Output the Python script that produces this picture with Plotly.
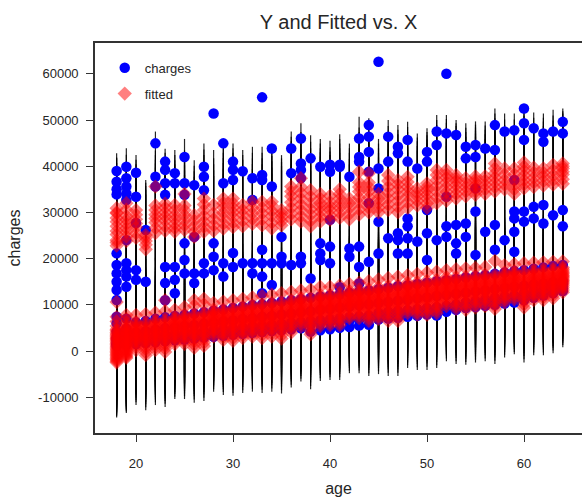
import plotly.graph_objects as go

# ---------------- data ----------------
ages = [18, 19, 20, 21, 22, 23, 24, 25, 26, 27, 28, 29, 30, 31, 32, 33, 34, 35, 36, 37, 38, 39, 40,
        41, 42, 43, 44, 45, 46, 47, 48, 49, 50, 51, 52, 53, 54, 55, 56, 57, 58, 59, 60, 61, 62, 63, 64]

# observed charges: upper / middle clusters (visible blue dots)
charges_upper = [
    [38960, 36650, 35000, 33900, 21140, 18600, 16800, 15000, 13200, 11040, 7400],
    [39900, 37400, 35600, 34100, 32700, 24000, 19000, 17500, 16100, 13900],
    [38600, 33400, 27700, 17500, 15400],
    [26200, 15000],
    [44950, 37700, 35600],
    [41000, 39200, 36300, 33800, 18200, 14700, 11000],
    [38500, 36300, 18200, 15400, 12500],
    [42000, 36300, 33800, 23300, 19700, 16800],
    [35900, 24700, 16800, 14700],
    [39900, 37700, 34800, 19000, 16800],
    [51400, 23300, 20400, 17500],
    [44950, 36300, 19000, 16100],
    [41000, 39200, 37000, 21200, 18200],
    [38900, 19000],
    [37400, 32700, 19000, 16800],
    [54900, 38100, 37000, 21900, 19000, 16100, 12500],
    [43850, 35600, 19000, 14300],
    [24700, 20400, 19000],
    [43850, 38500, 18600],
    [46000, 40600, 39200, 37400, 20400, 19000],
    [41700, 15700],
    [39900, 23300, 21100, 19700],
    [40300, 38800, 28400, 22600, 19000],
    [40300, 39900, 13800],
    [37700, 22200, 20400],
    [46000, 42000, 41000, 22600, 18200, 14600],
    [48900, 46400, 43100, 38800, 32000, 19300],
    [62600, 39500, 35200, 28000, 21100],
    [46400, 41000, 24400],
    [44200, 42800, 25500, 24000, 21100],
    [45700, 41000, 28700, 27000, 24400, 21100],
    [39500, 23700],
    [43100, 41000, 30500, 25500, 19700],
    [47500, 44600, 24000],
    [60000, 47100, 33400, 27000, 24700],
    [46750, 27300, 23300, 21100],
    [44200, 41700, 27600, 24700],
    [44600, 42000, 35200, 30200, 20800],
    [43850, 25800],
    [48900, 43500, 27300, 21900],
    [47500, 24000],
    [47800, 37000, 30200, 28700, 25800, 21500],
    [52500, 49300, 45700, 30200, 28000],
    [48200, 31200, 28700],
    [47100, 45300, 31600, 27600],
    [47500, 29400],
    [49600, 47100, 30500, 27000],
]

# observed charges: low cluster (mostly hidden under the fitted diamonds)
charges_lower = [
    [1100, 1700, 2200, 3000, 4200, 6000, 1400, 2600],
    [1300, 1800, 2500, 3300, 4800, 7000, 1600, 2900],
    [1500, 2000, 2800, 4000, 6200],
    [1700, 2300, 3000, 4300, 6500],
    [1900, 2500, 3300, 4600, 7000],
    [2100, 2700, 3500, 4900, 7300],
    [2300, 2900, 3700, 5100, 7600],
    [2500, 3100, 3900, 5400, 7800],
    [2700, 3300, 4100, 5600, 8100],
    [2900, 3500, 4300, 5900, 8400],
    [3100, 3700, 4500, 6100, 8700],
    [3300, 3900, 4700, 6400, 9000],
    [3500, 4100, 4900, 6600, 9300],
    [3700, 4300, 5100, 6900, 9600],
    [3900, 4500, 5300, 7100, 9900],
    [4100, 4700, 5500, 7400, 10100],
    [4300, 4900, 5700, 7600, 10400],
    [4500, 5100, 5900, 7900, 10700],
    [4700, 5300, 6100, 8100, 11000],
    [4900, 5500, 6300, 8400, 11200],
    [4200, 5700, 6500, 8600, 11500],
    [4500, 5900, 6700, 8900, 11800],
    [4700, 6100, 6900, 9100, 12000],
    [5000, 6300, 7100, 9400, 12300],
    [5200, 6500, 7300, 9600, 12600],
    [5500, 6700, 7500, 9900, 12900],
    [5700, 6900, 7700, 10100, 13100],
    [6800, 7500, 8300, 10400, 13400],
    [7000, 7700, 8500, 10600, 13700],
    [7200, 7900, 8700, 10900, 14000],
    [7400, 8100, 8900, 11100, 14200],
    [7600, 8300, 9100, 11400, 14500],
    [7900, 8500, 9300, 11600, 14800],
    [7700, 8700, 9500, 11900, 15100],
    [8500, 9000, 9800, 12100, 15300],
    [8900, 9400, 10100, 12400, 15600],
    [9300, 9800, 10500, 12600, 15900],
    [9500, 10100, 10900, 12900, 16200],
    [9800, 10400, 11200, 13100, 16400],
    [10000, 10700, 11500, 13400, 16700],
    [10300, 11000, 11800, 13600, 17000],
    [10500, 11200, 12000, 13900, 17300],
    [11000, 11700, 12500, 14100, 17500],
    [11500, 12200, 13000, 14400, 17800],
    [12000, 12700, 13500, 14600, 18100],
    [12500, 13200, 14000, 14900, 18400],
    [13000, 13600, 14400, 15100, 18600],
]

# fitted values: lower band
fitted_lower = [
    [-2500, -1900, -1300, -700, -100, 500, 1100, 1700, 2300, 2800, 3400, 4000, 4700, 5400, 6400, 7400, 10600],
    [-1500, -900, -300, 300, 900, 1400, 2000, 2500, 3100, 3600, 4200, 4800, 5500, 6200, 7000, 7800],
    [200, 1300, 2300, 2900, 3500, 4100, 4800, 5400, 6300, 7800],
    [-900, 400, 1500, 2300, 3000, 3700, 4400, 5200, 6200, 8000],
    [200, 1400, 2400, 3100, 3800, 4400, 5100, 5800, 6700, 8300],
    [-200, 1100, 2200, 3000, 3700, 4400, 5100, 5900, 6800, 8600, 11000],
    [1500, 2600, 3500, 4200, 4800, 5400, 6000, 6600, 7400, 8900],
    [1500, 2700, 3700, 4400, 5000, 5700, 6300, 7000, 7900, 9500],
    [700, 2100, 3200, 4000, 4700, 5400, 6200, 7000, 8000, 9800, 11000],
    [1100, 2500, 3500, 4300, 5100, 5800, 6500, 7300, 8300, 10100, 11300],
    [3100, 4200, 5100, 5700, 6300, 6900, 7500, 8100, 9000, 10400],
    [2400, 3600, 4600, 5400, 6100, 6700, 7400, 8100, 9000, 10700],
    [2200, 3500, 4600, 5400, 6100, 6800, 7500, 8300, 9200, 11000],
    [2800, 4100, 5100, 5900, 6500, 7200, 7900, 8700, 9600, 11300],
    [3100, 4400, 5400, 6200, 6800, 7500, 8200, 9000, 9900, 11600],
    [2800, 4200, 5300, 6100, 6800, 7500, 8300, 9100, 10100, 11900],
    [3100, 4500, 5600, 6400, 7100, 7800, 8600, 9400, 10400, 12200],
    [2700, 4200, 5300, 6200, 7000, 7800, 8600, 9500, 10500, 12500],
    [4000, 5300, 6400, 7200, 7900, 8600, 9300, 10100, 11000, 12800],
    [5300, 6500, 7400, 8100, 8700, 9400, 10000, 10700, 11500, 13100],
    [3600, 5100, 6200, 7100, 7900, 8600, 9400, 10300, 11400, 13300],
    [5400, 6700, 7700, 8500, 9100, 9800, 10500, 11300, 12200, 13900],
    [5600, 6800, 7800, 8600, 9300, 9900, 10600, 11300, 12200, 13900],
    [5600, 6900, 7900, 8700, 9400, 10100, 10800, 11500, 12500, 14200],
    [7100, 8200, 9100, 9800, 10400, 10900, 11500, 12200, 13000, 14500],
    [7100, 8300, 9200, 9900, 10500, 11100, 11700, 12400, 13300, 14800],
    [6500, 7800, 8800, 9600, 10300, 11000, 11700, 12400, 13400, 15100],
    [6900, 8200, 9200, 10000, 10700, 11400, 12100, 12800, 13800, 15500],
    [6500, 7900, 9000, 9800, 10600, 11300, 12100, 12900, 14000, 15800],
    [6500, 7900, 9100, 10000, 10700, 11500, 12300, 13100, 14200, 16100],
    [8200, 9400, 10400, 11200, 11800, 12500, 13100, 13900, 14800, 16400],
    [7800, 9100, 10200, 11000, 11700, 12400, 13100, 13900, 14900, 16700],
    [7800, 9200, 10300, 11100, 11800, 12600, 13300, 14100, 15200, 17000],
    [8200, 9500, 10600, 11400, 12200, 12900, 13600, 14400, 15400, 17200],
    [9700, 10900, 11800, 12500, 13100, 13800, 14400, 15100, 16000, 17500],
    [9100, 10400, 11400, 12200, 12900, 13600, 14300, 15000, 16000, 17700],
    [8900, 10200, 11300, 12100, 12900, 13600, 14300, 15100, 16100, 17900],
    [9400, 10700, 11700, 12500, 13200, 13900, 14600, 15300, 16300, 18000],
    [9700, 11000, 12000, 12800, 13400, 14100, 14800, 15600, 16500, 18200],
    [9100, 10500, 11600, 12400, 13200, 13900, 14700, 15500, 16500, 19500],
    [10500, 11700, 12700, 13400, 14100, 14700, 15400, 16100, 17000, 18600],
    [11200, 12300, 13300, 13900, 14500, 15200, 15800, 16400, 17300, 18800],
    [9400, 10800, 12000, 12900, 13600, 14400, 15200, 16000, 17100, 19000],
    [11000, 12200, 13200, 13900, 14600, 15200, 15900, 16600, 17500, 19100],
    [11000, 12200, 13200, 13900, 14600, 15300, 15900, 16700, 17600, 19200],
    [11400, 12600, 13500, 14200, 14900, 15500, 16100, 16900, 17700, 19300],
    [12700, 13700, 14500, 15100, 15600, 16200, 16700, 17300, 18100, 19400],
]

# more fitted values in the dense core of the lower band
fitted_lower_core = [
    [-2200, -1600, -1000, -400, 200, 800, 1400, 2000, 2600, 3100, 3700, 4400],
    [-1200, -600, 0, 600, 1200, 1700, 2300, 2800, 3400, 3900, 4500, 5100],
    [800, 1800, 2600, 3200, 3800, 4400, 5100, 5900],
    [-300, 900, 1900, 2600, 3300, 4000, 4800, 5700],
    [800, 1900, 2700, 3400, 4100, 4700, 5400, 6200],
    [500, 1600, 2600, 3300, 4000, 4700, 5500, 6300],
    [2000, 3000, 3800, 4500, 5100, 5700, 6300, 7000],
    [2100, 3200, 4000, 4700, 5300, 6000, 6600, 7400],
    [1400, 2600, 3600, 4300, 5000, 5800, 6600, 7500],
    [1800, 3000, 3900, 4700, 5400, 6100, 6900, 7800],
    [3600, 4600, 5400, 6000, 6600, 7200, 7800, 8500],
    [3000, 4100, 5000, 5700, 6400, 7000, 7700, 8500],
    [2800, 4000, 5000, 5700, 6400, 7100, 7900, 8700],
    [3400, 4600, 5500, 6200, 6800, 7500, 8300, 9100],
    [3700, 4900, 5800, 6500, 7100, 7800, 8600, 9400],
    [3500, 4700, 5700, 6400, 7100, 7900, 8700, 9600],
    [3800, 5000, 6000, 6700, 7400, 8200, 9000, 9900],
    [3400, 4700, 5700, 6600, 7400, 8200, 9000, 10000],
    [4600, 5800, 6800, 7500, 8200, 8900, 9700, 10500],
    [5900, 7000, 7700, 8400, 9000, 9700, 10300, 11100],
    [4300, 5600, 6700, 7500, 8200, 9000, 9800, 10800],
    [6000, 7200, 8100, 8800, 9400, 10100, 10900, 11700],
    [6200, 7300, 8200, 8900, 9600, 10200, 10900, 11700],
    [6200, 7400, 8300, 9000, 9700, 10400, 11100, 11900],
    [7600, 8600, 9400, 10100, 10600, 11200, 11800, 12600],
    [7700, 8700, 9500, 10200, 10800, 11400, 12000, 12800],
    [7100, 8300, 9200, 9900, 10600, 11300, 12000, 12900],
    [7500, 8700, 9600, 10300, 11000, 11700, 12400, 13300],
    [7200, 8400, 9400, 10200, 10900, 11700, 12500, 13400],
    [7200, 8500, 9500, 10300, 11100, 11900, 12700, 13600],
    [8800, 9900, 10800, 11500, 12100, 12800, 13500, 14300],
    [8400, 9600, 10600, 11300, 12000, 12700, 13500, 14400],
    [8500, 9700, 10700, 11400, 12200, 12900, 13700, 14600],
    [8800, 10000, 11000, 11800, 12500, 13200, 14000, 14900],
    [10300, 11300, 12100, 12800, 13400, 14100, 14700, 15500],
    [9700, 10900, 11800, 12500, 13200, 13900, 14600, 15500],
    [9500, 10700, 11700, 12500, 13200, 14000, 14700, 15600],
    [10000, 11200, 12100, 12800, 13500, 14200, 15000, 15800],
    [10300, 11500, 12400, 13100, 13800, 14500, 15200, 16000],
    [9800, 11000, 12000, 12800, 13500, 14300, 15100, 16000],
    [11100, 12200, 13100, 13800, 14400, 15000, 15700, 16500],
    [11700, 12800, 13600, 14200, 14800, 15500, 16100, 16800],
    [10100, 11400, 12400, 13200, 14000, 14800, 15600, 16500],
    [11600, 12700, 13500, 14200, 14900, 15600, 16300, 17000],
    [11600, 12700, 13500, 14300, 15000, 15600, 16300, 17100],
    [12000, 13000, 13800, 14500, 15200, 15800, 16500, 17300],
    [13200, 14100, 14800, 15300, 15900, 16400, 17000, 17700],
]

# fitted values: upper band
fitted_upper = [
    [22800, 24000, 25200, 27000, 28800, 29800, 30900, 23500, 26000, 28000, 30000],
    [23800, 25800, 27500, 29200, 30600, 32000, 24800, 26600, 28400],
    [24500, 26800, 28500, 30500, 25500, 27600, 29500],
    [22000, 23800, 25100, 23000, 24500],
    [25500, 27800, 29500, 31500, 35600, 26600, 28700, 30500],
    [26000, 28200, 30000, 31900, 27000, 29100, 31000],
    [25800, 27500, 29400, 31600, 26600, 28500, 30500],
    [26200, 28300, 30500, 34000, 27200, 29400, 31500],
    [24700, 27000, 29400, 25800, 28200],
    [25800, 28000, 30500, 33000, 26900, 29200, 31700],
    [26000, 28500, 31600, 27200, 29800],
    [26500, 28800, 31000, 33000, 27600, 29900, 32000],
    [26800, 29000, 31000, 33000, 27800, 30000, 32000],
    [27000, 29500, 31600, 28200, 30500],
    [27500, 29800, 32300, 28600, 31000],
    [27200, 29800, 32300, 28500, 31000],
    [26500, 29200, 31500, 32300, 27800, 30300],
    [27200, 29000, 30500, 28100, 29800],
    [28500, 31000, 33500, 35600, 29700, 32200, 34500],
    [28000, 30500, 33000, 35500, 37400, 29200, 31700, 34200],
    [27000, 29500, 32000, 34800, 28200, 30700, 33400],
    [28000, 30200, 32000, 34000, 29100, 31100, 33000],
    [28400, 30500, 32200, 33600, 29400, 31300],
    [28800, 31000, 33000, 35000, 29900, 32000, 34000],
    [28500, 31000, 33000, 29700, 32000],
    [29500, 32000, 34500, 36500, 38800, 30700, 33200, 35500],
    [30000, 32000, 34500, 36500, 38500, 31000, 33200, 35500],
    [30000, 32000, 34000, 31000, 33000],
    [30500, 33000, 35500, 38100, 31700, 34200, 36800],
    [30000, 32500, 35000, 37000, 31200, 33700, 36000],
    [31000, 33500, 35500, 37700, 32200, 34500, 36600],
    [31500, 33500, 35200, 32500, 34300],
    [31000, 33000, 34800, 36300, 32000, 33900, 35500],
    [32000, 34500, 37000, 39200, 33200, 35700, 38100],
    [32500, 33400, 35500, 37500, 39200, 34400, 36500, 38300],
    [33000, 35000, 36800, 38100, 34000, 35900, 37400],
    [33500, 35500, 37400, 34500, 36400],
    [33800, 35200, 36500, 37800, 34500, 35800, 37100],
    [34000, 36000, 37800, 35000, 36900],
    [34500, 36500, 38500, 40600, 35500, 37500, 39500],
    [35000, 37000, 39500, 36000, 38200],
    [34000, 36000, 37000, 39500, 35000, 38200],
    [35200, 37000, 39000, 40800, 36100, 38000, 39900],
    [35500, 37500, 39700, 36500, 38600],
    [35800, 37800, 39500, 36800, 38600],
    [36000, 38000, 40300, 37000, 39100],
    [36200, 38200, 39500, 40600, 37200, 38800, 40000],
]

# half-width of the prediction interval drawn around each fitted value
interval_halfwidth = 11900

x_ticks = [20, 30, 40, 50, 60]
y_ticks = [-10000, 0, 10000, 20000, 30000, 40000, 50000, 60000]
y_tick_labels = ["-10000", "0", "10000", "20000", "30000", "40000", "50000", "60000"]

# ---------------- build traces ----------------
cx, cy = [], []
for a, lo, hi in zip(ages, charges_lower, charges_upper):
    for v in lo + hi:
        cx.append(a)
        cy.append(v)

fx, fy = [], []
for a, lo, core, hi in zip(ages, fitted_lower, fitted_lower_core, fitted_upper):
    for v in lo + core + hi:
        fx.append(a)
        fy.append(v)

vx, vy = [], []
for a, v in zip(fx, fy):
    vx += [a, a, None]
    vy += [v - interval_halfwidth, v + interval_halfwidth, None]

FONT = "Liberation Sans, Arial, sans-serif"
TXT = "#262626"

fig = go.Figure()
fig.add_trace(go.Scatter(x=vx, y=vy, mode="lines", showlegend=False, hoverinfo="skip",
                         line=dict(color="rgba(0,0,0,0.85)", width=1.2)))
fig.add_trace(go.Scatter(x=cx, y=cy, mode="markers", name="charges", legendgroup="c",
                         marker=dict(symbol="circle", size=10.5, color="#0000ff", line=dict(width=0))))
fig.add_trace(go.Scatter(x=fx, y=fy, mode="markers", name="fitted", legendgroup="f",
                         marker=dict(symbol="diamond", size=11, color="#ff0000", opacity=0.5,
                                     line=dict(width=0))))

fig.update_layout(
    width=582, height=502,
    margin=dict(l=95, r=0, t=43, b=69),
    plot_bgcolor="white", paper_bgcolor="white",
    font=dict(family=FONT, color=TXT, size=13),
    title=dict(text="Y and Fitted vs. X", x=0.5, xref="paper", xanchor="center",
               y=1 - 22 / 502, yref="container", yanchor="middle",
               font=dict(family=FONT, size=20, color=TXT)),
    showlegend=True,
    legend=dict(x=0.02, y=0.975, xanchor="left", yanchor="top", bgcolor="rgba(0,0,0,0)",
                font=dict(family=FONT, size=13, color=TXT), tracegroupgap=6),
    xaxis=dict(range=[15.77, 65.98], tickvals=x_ticks, ticks="outside", ticklen=7, tickwidth=1.2,
               tickcolor="#333", showline=True, linecolor="#333", linewidth=1.6, mirror=True,
               showgrid=False, zeroline=False, tickfont=dict(size=13), ticklabelstandoff=11,
               title=dict(text="age", font=dict(size=16), standoff=12)),
    yaxis=dict(range=[-17750, 66670], tickvals=y_ticks, ticktext=y_tick_labels, ticks="outside",
               ticklen=7, tickwidth=1.2, tickcolor="#333", showline=True, linecolor="#333",
               linewidth=1.6, showgrid=False, zeroline=False, tickfont=dict(size=13),
               ticklabelstandoff=5,
               title=dict(text="charges", font=dict(size=16), standoff=14)),
)

fig.write_html("out.html")
